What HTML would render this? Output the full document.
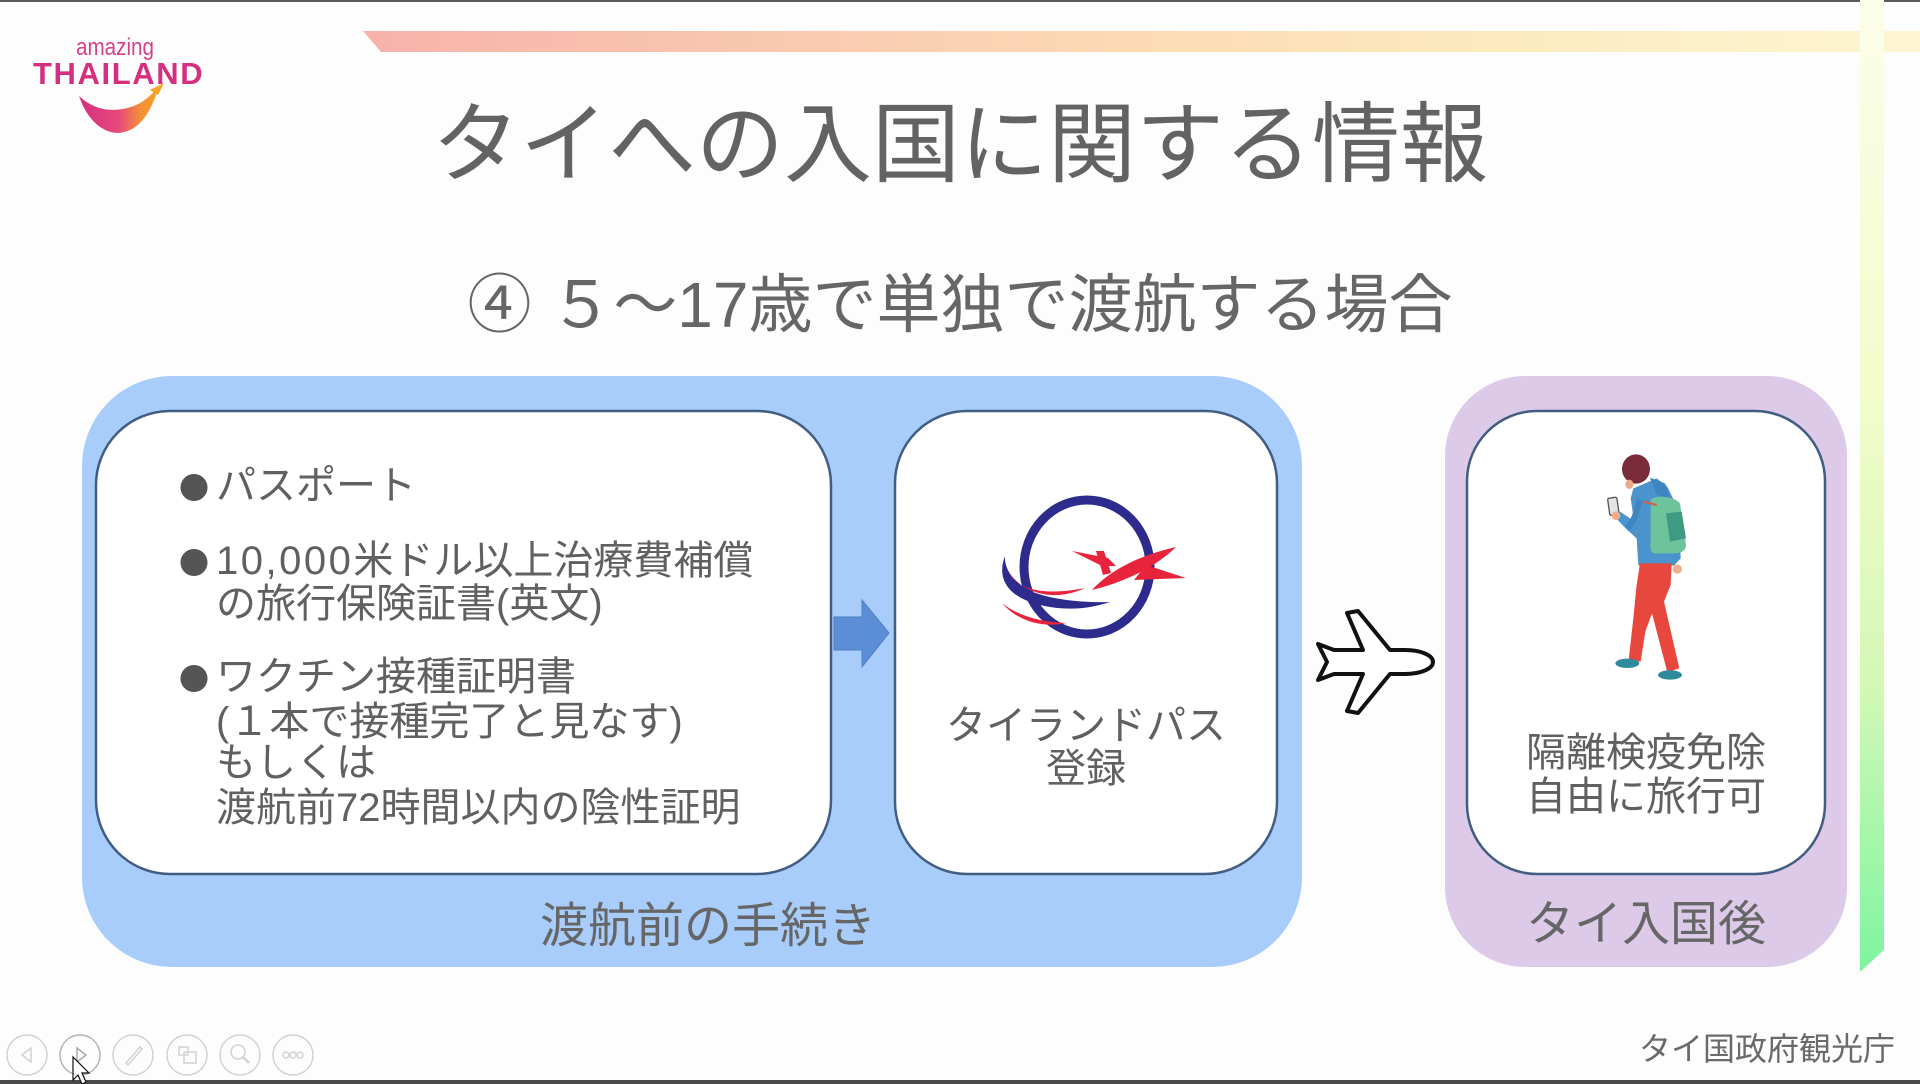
<!DOCTYPE html>
<html lang="ja">
<head>
<meta charset="utf-8">
<style>
  html,body{margin:0;padding:0;}
  body{width:1920px;height:1084px;position:relative;overflow:hidden;background:#fdfdfd;
       font-family:"Liberation Sans","Noto Sans CJK JP",sans-serif;color:#646464;}
  .t{position:absolute;white-space:nowrap;}
  .ln{position:absolute;white-space:nowrap;font-size:40px;line-height:44px;height:44px;color:#606060;}
  .bl{position:absolute;font-family:"Noto Sans CJK JP",sans-serif;font-size:30px;line-height:44px;height:44px;color:#555;}
  .c{text-align:center;}
</style>
</head>
<body>
<svg width="1920" height="1084" viewBox="0 0 1920 1084" style="position:absolute;left:0;top:0">
  <defs>
    <linearGradient id="gTop" x1="0" y1="0" x2="1" y2="0">
      <stop offset="0" stop-color="#f7b2ab"/>
      <stop offset="0.25" stop-color="#f9c7b0"/>
      <stop offset="0.5" stop-color="#fcdbb4"/>
      <stop offset="0.75" stop-color="#fdebc0"/>
      <stop offset="1" stop-color="#fdf5d2"/>
    </linearGradient>
    <linearGradient id="gSide" x1="0" y1="0" x2="0" y2="1">
      <stop offset="0" stop-color="#fcfde8"/>
      <stop offset="0.4" stop-color="#f3fccc"/>
      <stop offset="0.7" stop-color="#d4f8b6"/>
      <stop offset="1" stop-color="#7ef4a0"/>
    </linearGradient>
    <linearGradient id="gSwoosh" x1="0" y1="0" x2="1" y2="0">
      <stop offset="0" stop-color="#d62f80"/>
      <stop offset="0.5" stop-color="#e64a7a"/>
      <stop offset="0.75" stop-color="#f28c3a"/>
      <stop offset="1" stop-color="#f5a51f"/>
    </linearGradient>
  </defs>

  <!-- frame lines -->
  <rect x="0" y="0" width="1920" height="2" fill="#5a5a5a"/>
  <rect x="0" y="1080" width="1920" height="4" fill="#4a4a4a"/>

  <!-- decorative stripes -->
  <polygon points="363,31 1920,31 1920,52 381,52" fill="url(#gTop)"/>
  <polygon points="1860,0 1884,0 1884,950 1860,972" fill="url(#gSide)"/>

  <!-- amazing thailand swoosh -->
  <path d="M79,96 C88,122 104,133 118,133 C140,132 152,110 159,86 C150,97 140,106 123,109 C105,112 91,107 79,96 Z" fill="url(#gSwoosh)"/>
  <path d="M150,90 L164,83 L158,95 Z" fill="#f5a51f"/>

  <!-- group backgrounds -->
  <rect x="82" y="376" width="1220" height="591" rx="90" ry="90" fill="#a9cdfa"/>
  <rect x="1445" y="376" width="402" height="591" rx="80" ry="80" fill="#dccae8"/>

  <!-- inner cards -->
  <rect x="96" y="411" width="735" height="463" rx="74" ry="74" fill="#fff" stroke="#415d82" stroke-width="2.5"/>
  <rect x="895" y="411" width="382" height="463" rx="72" ry="72" fill="#fff" stroke="#415d82" stroke-width="2.5"/>
  <rect x="1467" y="411" width="358" height="463" rx="70" ry="70" fill="#fff" stroke="#415d82" stroke-width="2.5"/>

  <!-- blue arrow -->
  <polygon points="834,617 862,617 862,600 889,633 862,667 862,650 834,650" fill="#5b8ed6" stroke="#4d7fc6" stroke-width="1"/>

  <!-- airplane connector -->
  <path d="M1433,662 C1433,655 1420,650 1405,650 L1390,650 L1358,611 L1347,613 L1363,650 L1334,650 L1318,644 L1327,662 L1318,680 L1334,674 L1363,674 L1347,711 L1358,713 L1390,674 L1405,674 C1420,674 1433,669 1433,662 Z"
        fill="#fff" stroke="#111" stroke-width="4" stroke-linejoin="round"/>

  <!-- Thailand Pass logo -->
  <ellipse cx="1087" cy="567" rx="63" ry="67" fill="none" stroke="#2d2b8c" stroke-width="9"/>
  <path d="M1005,556 C995,582 1012,601 1050,607 C1075,611 1095,607 1110,602 C1085,603 1050,600 1028,590 C1012,580 1004,568 1005,556 Z" fill="#2d2b8c"/>
  <path d="M1008,572 C1018,590 1045,596 1085,588 C1060,600 1028,598 1008,572 Z" fill="#e8243c"/>
  <path d="M1002,603 C1018,616 1040,622 1066,623 C1045,628 1018,622 1002,603 Z" fill="#e8243c"/>
  <path d="M1092,590 C1110,570 1140,555 1176,547 C1160,563 1130,581 1092,590 Z" fill="#e8243c"/>
  <polygon points="1072,551 1108,558 1116,566 1102,566" fill="#e8243c"/>
  <polygon points="1096,551 1104,551 1111,573 1103,575" fill="#e8243c"/>
  <polygon points="1146,565 1186,578 1134,580" fill="#e8243c"/>

  <!-- person illustration -->
  <g transform="translate(1590,445) scale(0.3333)">
    <ellipse cx="138" cy="72" rx="42" ry="44" fill="#7a2b3a"/>
    <ellipse cx="118" cy="118" rx="12" ry="14" fill="#e9a98a"/>
    <path d="M130,130 L200,100 L232,125 L268,200 L272,340 L252,362 L145,362 L140,280 L112,255 L80,222 L90,200 L132,228 L122,160 Z" fill="#4b93cc"/>
    <path d="M180,98 L225,115 L240,160 L200,150 Z" fill="#3f85bf"/>
    <path d="M150,165 C140,200 130,235 112,250" stroke="#3f85bf" stroke-width="18" fill="none"/>
    <rect x="56" y="158" width="28" height="52" rx="5" fill="#e4e4e4" stroke="#555" stroke-width="4" transform="rotate(-8 70 184)"/>
    <circle cx="78" cy="212" r="13" fill="#efae8e"/>
    <path d="M182,168 C182,150 250,150 270,175 L288,300 C288,320 270,325 250,325 L195,325 C182,325 180,310 182,290 Z" fill="#6dc39c"/>
    <path d="M228,205 L275,200 L288,280 L240,290 Z" fill="#3e9b82"/>
    <path d="M160,170 L200,180" stroke="#e05a4a" stroke-width="6"/>
    <circle cx="262" cy="372" r="14" fill="#efae8e"/>
    <path d="M150,355 L245,355 L242,420 L222,470 L268,670 L232,682 L186,505 L166,560 L152,650 L116,645 L130,520 L140,420 Z" fill="#e8473e"/>
    <ellipse cx="112" cy="655" rx="36" ry="14" fill="#2f8a9c"/>
    <ellipse cx="240" cy="690" rx="36" ry="14" fill="#2f8a9c"/>
  </g>

  <!-- bottom controls -->
  <g fill="none" stroke="#d2d2d2" stroke-width="1.5">
    <circle cx="27" cy="1055" r="20"/>
    <circle cx="80" cy="1055" r="20" stroke="#b5b5b5"/>
    <circle cx="133" cy="1055" r="20"/>
    <circle cx="187" cy="1055" r="20"/>
    <circle cx="240" cy="1055" r="20"/>
    <circle cx="293" cy="1055" r="20"/>
    <polygon points="22,1055 31,1048 31,1062"/>
    <polygon points="77,1048 86,1055 77,1062" stroke="#aaa"/>
    <path d="M126,1063 L140,1047 L142,1049 L128,1065 Z"/>
    <rect x="179" y="1047" width="9" height="8"/>
    <rect x="184" y="1052" width="12" height="11"/>
    <circle cx="238" cy="1052" r="7"/>
    <line x1="243" y1="1057" x2="249" y2="1063" stroke-width="2.5"/>
    <circle cx="286" cy="1055" r="3"/>
    <circle cx="293" cy="1055" r="3"/>
    <circle cx="300" cy="1055" r="3"/>
  </g>
  <polygon points="73,1057 73,1080 78,1075 82,1084 86,1082 82,1073 89,1073" fill="#fff" stroke="#111" stroke-width="1.2"/>
</svg>

<!-- Amazing Thailand logo text -->
<div class="t" style="left:76px;top:34px;font-size:24px;line-height:28px;color:#d5418a;transform:scaleX(0.86);transform-origin:left top;">amazing</div>
<div class="t" style="left:33px;top:55px;font-size:31px;line-height:38px;font-weight:bold;color:#d4307f;letter-spacing:1.6px;">THAILAND</div>

<!-- titles -->
<div class="t c" style="left:0;top:101px;width:1920px;font-size:88px;line-height:88px;color:#636363;">タイへの入国に関する情報</div>
<div class="t c" style="left:0;top:273px;width:1920px;font-size:64px;line-height:64px;color:#666;">④ ５～17歳で単独で渡航する場合</div>

<!-- box 1 -->
<div class="bl" style="left:179px;top:464px;">●</div>
<div class="ln" style="left:216px;top:464px;">パスポート</div>
<div class="bl" style="left:179px;top:539px;">●</div>
<div class="ln" style="left:216px;top:539px;"><span style="letter-spacing:2.5px;">10,000</span>米ドル以上治療費補償</div>
<div class="ln" style="left:216px;top:582px;">の旅行保険証書(英文)</div>
<div class="bl" style="left:179px;top:655px;">●</div>
<div class="ln" style="left:216px;top:655px;">ワクチン接種証明書</div>
<div class="ln" style="left:216px;top:700px;">(１本で接種完了と見なす)</div>
<div class="ln" style="left:216px;top:741px;">もしくは</div>
<div class="ln" style="left:216px;top:786px;">渡航前72時間以内の陰性証明</div>

<!-- box 2 -->
<div class="ln c" style="left:895px;width:382px;top:704px;">タイランドパス</div>
<div class="ln c" style="left:895px;width:382px;top:747px;">登録</div>

<!-- box 3 -->
<div class="ln c" style="left:1467px;width:358px;top:731px;">隔離検疫免除</div>
<div class="ln c" style="left:1467px;width:358px;top:775px;">自由に旅行可</div>

<!-- group labels -->
<div class="t c" style="left:458px;width:500px;top:901px;font-size:48px;line-height:52px;color:#666;">渡航前の手続き</div>
<div class="t c" style="left:1445px;width:402px;top:899px;font-size:48px;line-height:52px;color:#666;">タイ入国後</div>

<!-- footer -->
<div class="t" style="left:1395px;width:500px;text-align:right;top:1031px;font-size:32px;line-height:36px;color:#6a6a6a;">タイ国政府観光庁</div>
</body>
</html>
